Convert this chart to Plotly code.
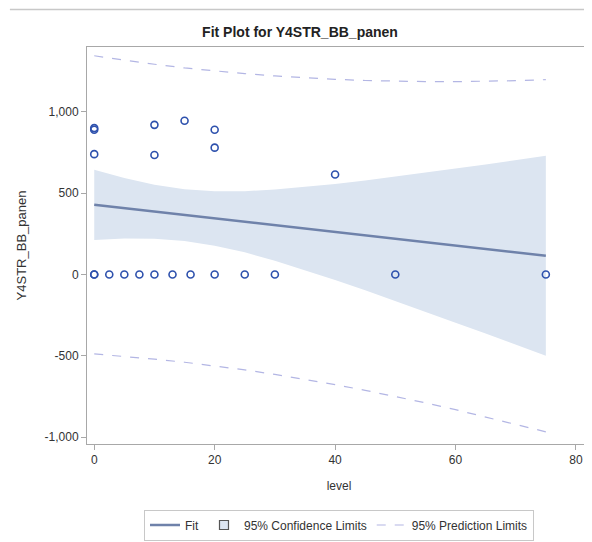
import plotly.graph_objects as go

# Observations
obs_level = [0, 0, 0, 0, 0, 2.5, 5, 7.5, 10, 10, 10, 13, 15, 16, 20, 20, 20, 25, 30, 40, 50, 75]
obs_value = [900, 890, 740, 0, 0, 0, 0, 0, 920, 735, 0, 0, 945, 0, 890, 780, 0, 0, 0, 615, 0, 0]

# Fit line and limits
grid_level = [0, 5, 10, 15, 20, 25, 30, 35, 40, 45, 50, 55, 60, 65, 70, 75]
fit_value = [428, 407, 386, 365, 344, 324, 303, 282, 261, 240, 219, 198, 177, 156, 135, 115]
cl_upper = [644, 593, 552, 524, 511, 512, 522, 537, 556, 578, 601, 625, 651, 676, 703, 730]
cl_lower = [212, 221, 220, 206, 177, 136, 84, 27, -34, -98, -163, -229, -297, -364, -433, -500]
pl_upper = [1345, 1317, 1293, 1270, 1251, 1235, 1221, 1209, 1200, 1193, 1189, 1186, 1186, 1188, 1192, 1198]
pl_lower = [-489, -503, -521, -540, -563, -587, -615, -645, -678, -713, -751, -790, -832, -876, -922, -968]

x_tickvals = [0, 20, 40, 60, 80]
x_ticktext = ["0", "20", "40", "60", "80"]
y_tickvals = [-1000, -500, 0, 500, 1000]
y_ticktext = ["-1,000", "-500", "0", "500", "1,000"]

FONT = "Liberation Sans, Arial, sans-serif"
band_color = "#DCE5F1"
fit_color = "#6F82AA"
pred_color = "#B3B6E4"
marker_color = "#2E51AD"
text_color = "#333333"

fig = go.Figure()

# Confidence band
fig.add_trace(go.Scatter(x=grid_level, y=cl_lower, mode="lines", line=dict(width=0, color=band_color),
                         showlegend=False, hoverinfo="skip"))
fig.add_trace(go.Scatter(x=grid_level, y=cl_upper, mode="lines", line=dict(width=0, color=band_color),
                         fill="tonexty", fillcolor=band_color, showlegend=False))

# Legend entries
fig.add_trace(go.Scatter(x=[None], y=[None], mode="lines", line=dict(color=fit_color, width=2.5),
                         name="Fit"))
fig.add_trace(go.Scatter(x=[None], y=[None], mode="markers",
                         marker=dict(symbol="square", size=9, color=band_color,
                                     line=dict(color="#555555", width=1.2)),
                         name="95% Confidence Limits"))

# Prediction limits
fig.add_trace(go.Scatter(x=grid_level, y=pl_upper, mode="lines",
                         line=dict(color=pred_color, width=1.2, dash="dash"),
                         name="95% Prediction Limits", legendgroup="pl"))
fig.add_trace(go.Scatter(x=grid_level, y=pl_lower, mode="lines",
                         line=dict(color=pred_color, width=1.2, dash="dash"),
                         name="95% Prediction Limits", legendgroup="pl", showlegend=False))

# Fit line
fig.add_trace(go.Scatter(x=grid_level, y=fit_value, mode="lines",
                         line=dict(color=fit_color, width=2.5), name="Fit", showlegend=False))

# Observations
fig.add_trace(go.Scatter(x=obs_level, y=obs_value, mode="markers",
                         marker=dict(symbol="circle-open", size=7, color=marker_color,
                                     line=dict(width=1.6, color=marker_color)),
                         showlegend=False))

axis_common = dict(showgrid=False, zeroline=False, showline=True, linecolor="#A8A8A8", linewidth=1,
                   mirror=True, ticks="outside", ticklen=5, tickcolor="#A8A8A8", automargin=False,
                   tickfont=dict(family=FONT, size=12, color=text_color))

# The page places the figure at an 8px offset; sizes compensate for that.
fig.update_layout(
    width=584, height=534,
    margin=dict(l=79, r=1, t=39, b=94),
    paper_bgcolor="white", plot_bgcolor="white",
    font=dict(family=FONT, size=12, color=text_color),
    title=dict(text="<b>Fit Plot for Y4STR_BB_panen</b>", x=0.5, xanchor="center", xref="container",
               y=1 - 24 / 534, yanchor="middle", yref="container",
               font=dict(family=FONT, size=14, color="#222222")),
    xaxis=dict(range=[-1.2, 82.5], tickvals=x_tickvals, ticktext=x_ticktext,
               title=dict(text="level", font=dict(family=FONT, size=12, color=text_color)),
               **axis_common),
    yaxis=dict(range=[-1043, 1399], tickvals=y_tickvals, ticktext=y_ticktext,
               title=dict(text="Y4STR_BB_panen", font=dict(family=FONT, size=13, color=text_color)),
               **axis_common),
    legend=dict(orientation="h", x=0.5, xanchor="center", y=-0.165, yanchor="top",
                bordercolor="#C8C8C8", borderwidth=1, bgcolor="white",
                font=dict(family=FONT, size=12, color=text_color), itemwidth=30,
                traceorder="normal"),
    shapes=[dict(type="line", xref="paper", yref="paper", x0=-0.153, x1=1.0,
                 y0=(448 - 9) / 401, y1=(448 - 9) / 401, line=dict(color="#C8C8C8", width=1.5))],
)

fig.write_html("out.html")
